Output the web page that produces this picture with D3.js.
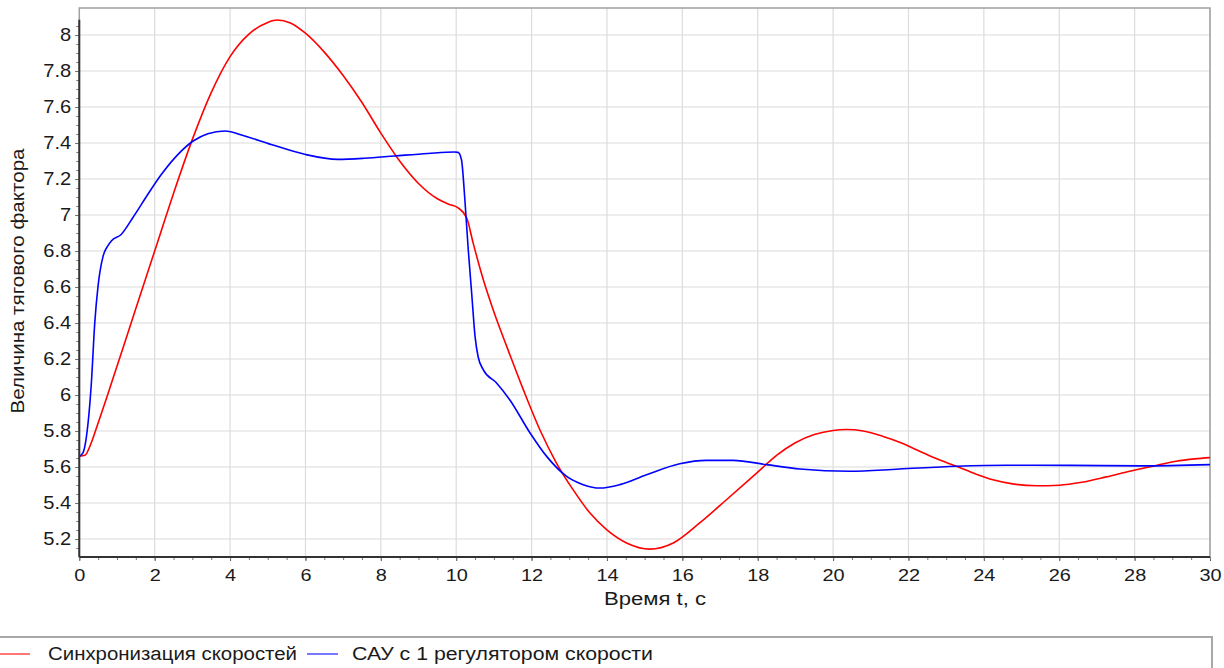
<!DOCTYPE html>
<html><head><meta charset="utf-8">
<script src="https://cdn.jsdelivr.net/npm/d3@7"></script>
<style>
html,body{margin:0;padding:0;background:#fff;overflow:hidden;}
svg{display:block;font-family:"Liberation Sans",Arial,sans-serif;}
</style></head><body>
<svg id="chart" width="1224" height="668"></svg>
<script>
// ---- data ----
const seriesNames = ["Синхронизация скоростей", "САУ с 1 регулятором скорости"];
const seriesColors = ["#ff0000", "#0000ff"];
const xTicks = [0,2,4,6,8,10,12,14,16,18,20,22,24,26,28,30];
const yTicks = [5.2,5.4,5.6,5.8,6,6.2,6.4,6.6,6.8,7,7.2,7.4,7.6,7.8,8];
const xTitle = "Время t, с";
const yTitle = "Величина тягового фактора";

const timeRed = [0,0.15,0.3,0.5,0.75,1.0,1.5,2.0,2.5,3.0,3.5,4.0,4.5,5.0,5.25,5.6,6.0,6.5,7.0,7.5,8.0,8.5,9.0,9.5,9.8,10.05,10.28,10.45,10.72,10.98,11.34,11.78,12.22,12.66,13.1,13.55,13.99,14.52,15.14,15.76,16.46,17.17,18.0,18.5,19.0,19.5,20.0,20.35,20.8,21.33,21.8,22.21,22.7,23.27,23.8,24.24,24.8,25.4,26.0,26.6,27.25,27.9,28.49,29.1,29.6,30];
const valueRed = [5.66,5.665,5.725,5.845,6.0,6.16,6.48,6.8,7.12,7.42,7.68,7.88,8.005,8.07,8.083,8.067,8.01,7.905,7.775,7.625,7.455,7.3,7.175,7.09,7.06,7.04,6.983,6.844,6.64,6.474,6.27,6.03,5.807,5.622,5.474,5.344,5.252,5.178,5.144,5.178,5.289,5.418,5.572,5.665,5.735,5.78,5.803,5.808,5.8,5.77,5.735,5.696,5.65,5.604,5.56,5.529,5.505,5.496,5.499,5.515,5.545,5.578,5.605,5.632,5.645,5.652];

const timeBlue = [0,0.1,0.19,0.32,0.41,0.5,0.63,0.76,0.85,1.11,1.42,1.82,2.18,2.62,3.02,3.41,3.86,4.39,5.09,5.98,6.86,7.57,8.37,9.25,9.95,10.05,10.14,10.23,10.32,10.41,10.5,10.58,10.72,11.07,11.42,11.96,12.4,12.93,13.37,13.81,14.34,15.05,15.93,16.64,17.35,18.23,19.12,20.44,21.76,23.27,24.6,26.3,28.2,30];
const valueBlue = [5.66,5.68,5.77,6.067,6.4,6.61,6.77,6.83,6.856,6.892,6.985,7.115,7.226,7.337,7.411,7.452,7.467,7.439,7.392,7.337,7.309,7.315,7.328,7.342,7.35,7.348,7.307,7.085,6.807,6.567,6.326,6.214,6.14,6.067,5.974,5.789,5.659,5.548,5.502,5.483,5.502,5.557,5.618,5.637,5.637,5.613,5.589,5.576,5.589,5.604,5.61,5.609,5.606,5.613];

// ---- layout ----
const svg = d3.select("#chart");
const L = 79.3, R = 1210, T = 8, B = 557;
const x = d3.scaleLinear().domain([0,30]).range([L,R]);
const y = d3.scaleLinear().domain([5.1,8.15]).range([B,T]);
const textColor = "#1a1a1a";

// grid
svg.append("g").selectAll("line").data(xTicks.slice(1)).join("line")
  .attr("x1",d=>x(d)).attr("x2",d=>x(d)).attr("y1",T).attr("y2",B)
  .attr("stroke","#dcdcdc").attr("stroke-width",1.2);
svg.append("g").selectAll("line").data(yTicks).join("line")
  .attr("x1",L).attr("x2",R).attr("y1",d=>y(d)).attr("y2",d=>y(d))
  .attr("stroke","#dcdcdc").attr("stroke-width",1.2);

// frame
svg.append("rect").attr("x",L).attr("y",T).attr("width",R-L).attr("height",B-T)
  .attr("fill","none").attr("stroke","#a0a0a0").attr("stroke-width",1.5);

// series
const lineGen = d3.line().x(d=>x(d[0])).y(d=>y(d[1])).curve(d3.curveMonotoneX);
const redPts = timeRed.map((t,i)=>[t,valueRed[i]]);
const bluePts = timeBlue.map((t,i)=>[t,valueBlue[i]]);
svg.append("path").datum(redPts).attr("d",lineGen).attr("fill","none")
  .attr("stroke",seriesColors[0]).attr("stroke-width",1.6);
svg.append("path").datum(bluePts).attr("d",lineGen).attr("fill","none")
  .attr("stroke",seriesColors[1]).attr("stroke-width",1.6);

// axes
const xMinor = d3.range(0,30.001,0.5);
const yMinor = d3.range(5.15,8.1,0.05);
const xAxis = svg.append("g").attr("transform",`translate(0,${B})`)
  .call(d3.axisBottom(x).tickValues(xTicks).tickFormat(d3.format("d")).tickSize(4).tickSizeOuter(0).tickPadding(8));
xAxis.select(".domain").remove();
xAxis.selectAll("text").attr("font-size",17).attr("fill",textColor)
  .attr("font-family","Liberation Sans, Arial, sans-serif").attr("transform","scale(1.17,1)");
xAxis.selectAll("line").attr("stroke","#555");
svg.append("g").attr("transform",`translate(0,${B})`)
  .call(d3.axisBottom(x).tickValues(xMinor).tickFormat("").tickSize(3).tickSizeOuter(0))
  .call(g=>g.select(".domain").remove()).selectAll("line").attr("stroke","#777");

const ySx = 1.15;
const yAxis = svg.append("g").attr("transform",`translate(${L},0)`)
  .call(d3.axisLeft(y).tickValues(yTicks).tickFormat(d=>String(+d.toFixed(1))).tickSize(4).tickSizeOuter(0).tickPadding(4));
yAxis.select(".domain").remove();
yAxis.selectAll("text").attr("font-size",17.5).attr("fill",textColor)
  .attr("font-family","Liberation Sans, Arial, sans-serif")
  .attr("x",-8/ySx).attr("transform",`scale(${ySx},1)`);
yAxis.selectAll("line").attr("stroke","#555");
svg.append("g").attr("transform",`translate(${L},0)`)
  .call(d3.axisLeft(y).tickValues(yMinor).tickFormat("").tickSize(3).tickSizeOuter(0))
  .call(g=>g.select(".domain").remove()).selectAll("line").attr("stroke","#777");

// dark axis lines
svg.append("line").attr("x1",L).attr("x2",L).attr("y1",y(8.085)).attr("y2",B)
  .attr("stroke","#333").attr("stroke-width",2);
svg.append("line").attr("x1",L).attr("x2",R).attr("y1",B).attr("y2",B)
  .attr("stroke","#333").attr("stroke-width",2);

// titles
svg.append("text").attr("x",655).attr("y",605).attr("text-anchor","middle")
  .attr("font-size",18).attr("fill",textColor)
  .attr("textLength",102).attr("lengthAdjust","spacingAndGlyphs").text(xTitle);
svg.append("text").attr("transform",`translate(24,281) rotate(-90)`).attr("text-anchor","middle")
  .attr("font-size",19).attr("fill",textColor)
  .attr("textLength",265).attr("lengthAdjust","spacingAndGlyphs").text(yTitle);

// legend
svg.append("rect").attr("x",-10).attr("y",637).attr("width",R+2+10).attr("height",60)
  .attr("fill","none").attr("stroke","#a8a8a8").attr("stroke-width",2);
const legendPos = [[0,30,48,249],[307,338,352,301]];
seriesNames.forEach((n,i)=>{
  const lc = i===0 ? "#ff5555" : "#5555ff";
  svg.append("line").attr("x1",legendPos[i][0]).attr("x2",legendPos[i][1]).attr("y1",654).attr("y2",654)
    .attr("stroke",lc).attr("stroke-width",1.6);
  svg.append("text").attr("x",legendPos[i][2]).attr("y",660).attr("font-size",18)
    .attr("fill",textColor).attr("textLength",legendPos[i][3]).attr("lengthAdjust","spacingAndGlyphs").text(n);
});
</script>
</body></html>
